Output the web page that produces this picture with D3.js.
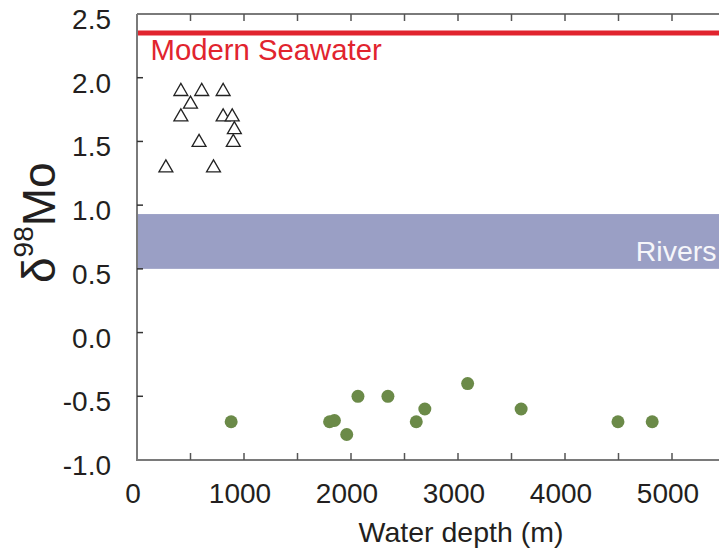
<!DOCTYPE html>
<html>
  <head>
    <meta charset="utf-8" />
    <title>Mo isotopes vs water depth</title>
    <script src="https://d3js.org/d3.v7.min.js"></script>
    <style>
      body { margin: 0; background: #fff; }
      svg text { font-family: "Liberation Sans", Arial, sans-serif; fill: #231f20; }
    </style>
  </head>
  <body>
    <svg width="719" height="552"></svg>

    <script>
      // Data: open triangles (shallow samples)
      var triDepth = [270, 410, 605, 805, 500, 410, 805, 890, 910, 580, 900, 715];
      var triMo    = [1.3, 1.9, 1.9, 1.9, 1.8, 1.7, 1.7, 1.7, 1.6, 1.5, 1.5, 1.3];

      // Data: green dots (deep samples)
      var dotDepth = [880, 1800, 1845, 1960, 2065, 2345, 2610, 2690, 3090, 3590, 4495, 4815];
      var dotMo    = [-0.7, -0.7, -0.69, -0.8, -0.5, -0.5, -0.7, -0.6, -0.4, -0.6, -0.7, -0.7];

      // Reference values
      var seawater = 2.35;
      var rivers = [0.5, 0.93];

      // Tick labels
      var xTicks = [0, 1000, 2000, 3000, 4000, 5000];
      var xMinor = [500, 1500, 2500, 3500, 4500, 5500];
      var yTicks = [-1.0, -0.5, 0.0, 0.5, 1.0, 1.5, 2.0, 2.5];

      var svg = d3.select("svg");

      var x = d3.scaleLinear().domain([0, 5500]).range([137, 725.5]);
      var y = d3.scaleLinear().domain([-1, 2.5]).range([460, 14]);

      var frame = "#7a7a7a";

      // rivers band
      svg.append("rect")
        .attr("x", x(0))
        .attr("y", y(rivers[1]))
        .attr("width", x(5500) - x(0))
        .attr("height", y(rivers[0]) - y(rivers[1]))
        .attr("fill", "#9a9fc5");

      svg.append("text")
        .attr("x", 716.5)
        .attr("y", y(rivers[0]) - 7.5)
        .attr("text-anchor", "end")
        .style("font-size", "28.5px")
        .style("fill", "#f6f6fa")
        .text("Rivers");

      // modern seawater line
      svg.append("line")
        .attr("x1", x(0)).attr("x2", 719)
        .attr("y1", y(seawater)).attr("y2", y(seawater))
        .attr("stroke", "#e1242e")
        .attr("stroke-width", 5);

      svg.append("text")
        .attr("x", 150.5)
        .attr("y", 60)
        .style("font-size", "29.3px")
        .style("fill", "#e1242e")
        .text("Modern Seawater");

      // frame lines
      var all = xTicks.concat(xMinor).filter(function (d) { return d > 0; });
      svg.append("path")
        .attr("d", "M" + x(0) + "," + y(2.5) + "V" + y(-1) + "H719")
        .attr("fill", "none").attr("stroke", frame).attr("stroke-width", 2);
      svg.append("line")
        .attr("x1", x(0)).attr("x2", 719)
        .attr("y1", y(2.5)).attr("y2", y(2.5))
        .attr("stroke", frame).attr("stroke-width", 2);

      // bottom + top ticks (inward)
      svg.selectAll(".xt")
        .data(all)
        .enter()
        .append("line")
        .attr("class", "xt")
        .attr("x1", function (d) { return x(d); })
        .attr("x2", function (d) { return x(d); })
        .attr("y1", y(-1)).attr("y2", y(-1) - 7)
        .attr("stroke", "#555").attr("stroke-width", 1.5);

      svg.selectAll(".xtt")
        .data(all)
        .enter()
        .append("line")
        .attr("class", "xtt")
        .attr("x1", function (d) { return x(d); })
        .attr("x2", function (d) { return x(d); })
        .attr("y1", y(2.5)).attr("y2", y(2.5) + 7)
        .attr("stroke", "#555").attr("stroke-width", 1.5);

      // left ticks (inward)
      svg.selectAll(".yt")
        .data(yTicks.filter(function (d) { return d > -1 && d < 2.5; }))
        .enter()
        .append("line")
        .attr("class", "yt")
        .attr("x1", x(0)).attr("x2", x(0) + 6)
        .attr("y1", function (d) { return y(d); })
        .attr("y2", function (d) { return y(d); })
        .attr("stroke", "#333").attr("stroke-width", 1.5);

      // tick labels
      svg.selectAll(".xl")
        .data(xTicks)
        .enter()
        .append("text")
        .attr("class", "xl")
        .attr("x", function (d) { return x(d) - 4; })
        .attr("y", 503)
        .attr("text-anchor", "middle")
        .style("font-size", "28px")
        .text(function (d) { return d; });

      svg.selectAll(".yl")
        .data(yTicks)
        .enter()
        .append("text")
        .attr("class", "yl")
        .attr("x", 111)
        .attr("y", function (d) { return y(d) + 15; })
        .attr("text-anchor", "end")
        .style("font-size", "28px")
        .text(function (d) { return d.toFixed(1); });

      // axis titles
      svg.append("text")
        .attr("x", 461)
        .attr("y", 542)
        .attr("text-anchor", "middle")
        .style("font-size", "28.5px")
        .text("Water depth (m)");

      var yt = svg.append("text")
        .attr("transform", "translate(55,283) rotate(-90)")
        .style("font-size", "46px");
      yt.append("tspan").text("δ");
      yt.append("tspan").attr("dy", -22).style("font-size", "28px").text("98");
      yt.append("tspan").attr("dy", 22).text("Mo");

      // triangles
      var tri = d3.symbol().type(d3.symbolTriangle).size(84);
      svg.selectAll(".tri")
        .data(triDepth)
        .enter()
        .append("path")
        .attr("class", "tri")
        .attr("d", tri)
        .attr("transform", function (d, i) {
          return "translate(" + x(d) + "," + (y(triMo[i]) + 1) + ")";
        })
        .attr("fill", "#fff")
        .attr("stroke", "#222")
        .attr("stroke-width", 1.3);

      // dots
      svg.selectAll(".dot")
        .data(dotDepth)
        .enter()
        .append("circle")
        .attr("class", "dot")
        .attr("cx", function (d) { return x(d); })
        .attr("cy", function (d, i) { return y(dotMo[i]); })
        .attr("r", 6.5)
        .attr("fill", "#6b8a48");
    </script>
  </body>
</html>
